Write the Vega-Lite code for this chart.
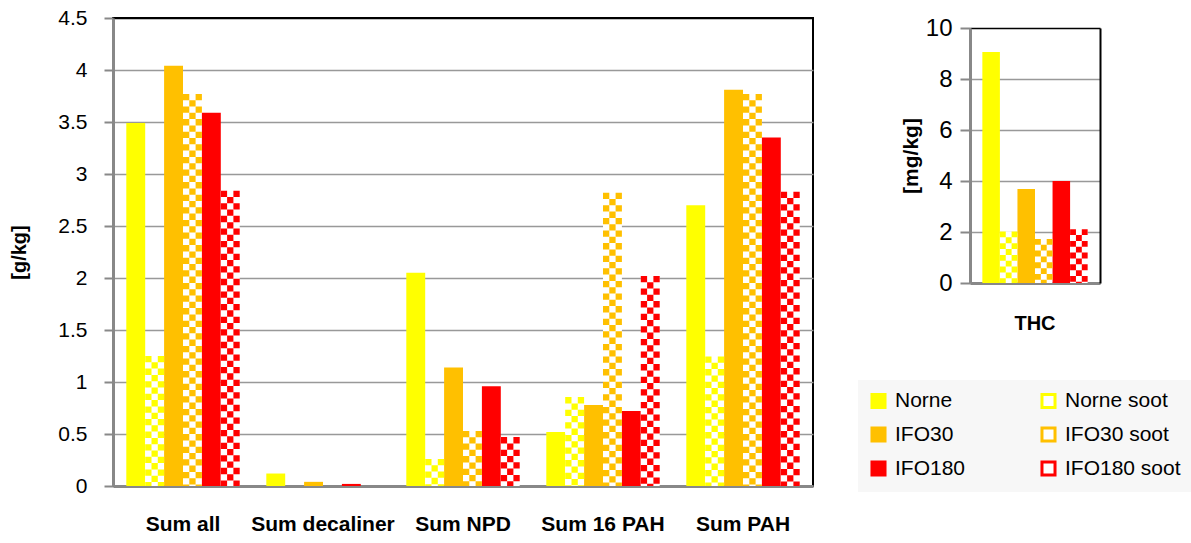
{
  "$schema": "https://vega.github.io/schema/vega-lite/v6.json",
  "background": "white",
  "padding": {"left": 8, "top": 6, "right": 0, "bottom": 0},
  "config": {
    "font": "Liberation Sans",
    "view": {"stroke": "#000000", "strokeWidth": 2},
    "axis": {
      "labelColor": "#000000", "titleColor": "#000000",
      "labelFont": "Liberation Sans", "titleFont": "Liberation Sans",
      "domainColor": "#888888", "domainWidth": 3,
      "tickColor": "#888888", "tickWidth": 2,
      "gridColor": "#999999", "gridWidth": 1.5
    }
  },
  "datasets": {
    "main": [
      {"category": "Sum all", "series": "Norne", "value": 3.49},
      {"category": "Sum all", "series": "Norne soot", "value": 1.25},
      {"category": "Sum all", "series": "IFO30", "value": 4.04},
      {"category": "Sum all", "series": "IFO30 soot", "value": 3.77},
      {"category": "Sum all", "series": "IFO180", "value": 3.59},
      {"category": "Sum all", "series": "IFO180 soot", "value": 2.84},
      {"category": "Sum decaliner", "series": "Norne", "value": 0.12},
      {"category": "Sum decaliner", "series": "Norne soot", "value": 0},
      {"category": "Sum decaliner", "series": "IFO30", "value": 0.04},
      {"category": "Sum decaliner", "series": "IFO30 soot", "value": 0},
      {"category": "Sum decaliner", "series": "IFO180", "value": 0.02},
      {"category": "Sum decaliner", "series": "IFO180 soot", "value": 0},
      {"category": "Sum NPD", "series": "Norne", "value": 2.05},
      {"category": "Sum NPD", "series": "Norne soot", "value": 0.26},
      {"category": "Sum NPD", "series": "IFO30", "value": 1.14},
      {"category": "Sum NPD", "series": "IFO30 soot", "value": 0.53},
      {"category": "Sum NPD", "series": "IFO180", "value": 0.96},
      {"category": "Sum NPD", "series": "IFO180 soot", "value": 0.47},
      {"category": "Sum 16 PAH", "series": "Norne", "value": 0.52},
      {"category": "Sum 16 PAH", "series": "Norne soot", "value": 0.855},
      {"category": "Sum 16 PAH", "series": "IFO30", "value": 0.78},
      {"category": "Sum 16 PAH", "series": "IFO30 soot", "value": 2.82},
      {"category": "Sum 16 PAH", "series": "IFO180", "value": 0.72},
      {"category": "Sum 16 PAH", "series": "IFO180 soot", "value": 2.02},
      {"category": "Sum PAH", "series": "Norne", "value": 2.70},
      {"category": "Sum PAH", "series": "Norne soot", "value": 1.245},
      {"category": "Sum PAH", "series": "IFO30", "value": 3.81},
      {"category": "Sum PAH", "series": "IFO30 soot", "value": 3.77},
      {"category": "Sum PAH", "series": "IFO180", "value": 3.35},
      {"category": "Sum PAH", "series": "IFO180 soot", "value": 2.83}
    ],
    "thc": [
      {"category": "THC", "series": "Norne", "value": 9.06},
      {"category": "THC", "series": "Norne soot", "value": 2.02},
      {"category": "THC", "series": "IFO30", "value": 3.69},
      {"category": "THC", "series": "IFO30 soot", "value": 1.73},
      {"category": "THC", "series": "IFO180", "value": 4.0},
      {"category": "THC", "series": "IFO180 soot", "value": 2.11}
    ]
  },
  "columns": 2,
  "align": "none",
  "spacing": 44,
  "resolve": {
    "scale": {"x": "independent", "y": "independent", "xOffset": "independent", "fill": "independent", "stroke": "independent", "color": "independent"},
    "legend": {"fill": "independent", "stroke": "independent", "color": "independent"},
    "axis": {"x": "independent", "y": "independent"}
  },
  "concat": [
    {
      "width": 700,
      "height": 468,
      "data": {"name": "main"},
      "resolve": {"scale": {"xOffset": "independent"}},
      "encoding": {
        "x": {"field": "category", "type": "nominal", "sort": null,
          "scale": {"paddingInner": 0.19, "paddingOuter": 0.095},
          "axis": {"title": null, "labelAngle": 0, "ticks": false, "labelFontSize": 21, "labelFontWeight": "bold", "labelPadding": 27}},
        "y": {"field": "value", "type": "quantitative",
          "scale": {"domain": [0, 4.5], "nice": false, "zero": true},
          "axis": {"title": "[g/kg]", "values": [0, 0.5, 1, 1.5, 2, 2.5, 3, 3.5, 4, 4.5], "format": "~g",
            "labelFontSize": 21, "titleFontSize": 20, "titleFontWeight": "bold",
            "tickSize": 9, "labelPadding": 17, "titlePadding": 28,
            "gridColor": {"condition": {"test": "datum.value >= 4.5", "value": "#000000"}, "value": "#999999"}}}
      },
      "layer": [
        {
          "mark": {"type": "bar", "strokeWidth": 0},
          "encoding": {
            "xOffset": {"field": "series", "type": "nominal", "sort": null,
              "scale": {"domain": ["Norne", "Norne soot", "IFO30", "IFO30 soot", "IFO180", "IFO180 soot"], "paddingInner": 0, "paddingOuter": 0}},
            "fill": {"field": "series", "type": "nominal",
              "scale": {"domain": ["Norne", "Norne soot", "IFO30", "IFO30 soot", "IFO180", "IFO180 soot"], "range": ["#FFFF00", "#FFFFFF", "#FFC000", "#FFFFFF", "#FF0000", "#FFFFFF"]},
              "legend": null}
          }
        },
        {
          "transform": [{"filter": "indexof(datum.series, 'soot') >= 0"}],
          "mark": {"type": "rule", "strokeWidth": 6.3, "strokeDash": [6.3, 6.3], "strokeDashOffset": 0},
          "encoding": {
            "xOffset": {"field": "series", "type": "nominal", "sort": null,
              "scale": {"domain": ["Norne", "Norne soot", "IFO30", "IFO30 soot", "IFO180", "IFO180 soot"], "paddingInner": 0, "paddingOuter": 0, "range": [-6.3, 107.1]}},
            "y2": {"datum": 0},
            "color": {"field": "series", "type": "nominal",
              "scale": {"domain": ["Norne", "Norne soot", "IFO30", "IFO30 soot", "IFO180", "IFO180 soot"], "range": ["#FFFF00", "#FFFF00", "#FFC000", "#FFC000", "#FF0000", "#FF0000"]},
              "legend": null}
          }
        },
        {
          "transform": [{"filter": "indexof(datum.series, 'soot') >= 0"}],
          "mark": {"type": "rule", "strokeWidth": 6.3, "strokeDash": [6.3, 6.3], "strokeDashOffset": 6.3},
          "encoding": {
            "xOffset": {"field": "series", "type": "nominal", "sort": null,
              "scale": {"domain": ["Norne", "Norne soot", "IFO30", "IFO30 soot", "IFO180", "IFO180 soot"], "paddingInner": 0, "paddingOuter": 0, "range": [0, 113.4]}},
            "y2": {"datum": 0},
            "color": {"field": "series", "type": "nominal",
              "scale": {"domain": ["Norne", "Norne soot", "IFO30", "IFO30 soot", "IFO180", "IFO180 soot"], "range": ["#FFFF00", "#FFFF00", "#FFC000", "#FFC000", "#FF0000", "#FF0000"]},
              "legend": null}
          }
        },
        {
          "transform": [{"filter": "indexof(datum.series, 'soot') >= 0"}],
          "mark": {"type": "rule", "strokeWidth": 6.3, "strokeDash": [6.3, 6.3], "strokeDashOffset": 0},
          "encoding": {
            "xOffset": {"field": "series", "type": "nominal", "sort": null,
              "scale": {"domain": ["Norne", "Norne soot", "IFO30", "IFO30 soot", "IFO180", "IFO180 soot"], "paddingInner": 0, "paddingOuter": 0, "range": [6.3, 119.7]}},
            "y2": {"datum": 0},
            "color": {"field": "series", "type": "nominal",
              "scale": {"domain": ["Norne", "Norne soot", "IFO30", "IFO30 soot", "IFO180", "IFO180 soot"], "range": ["#FFFF00", "#FFFF00", "#FFC000", "#FFC000", "#FF0000", "#FF0000"]},
              "legend": null}
          }
        }
      ]
    },
    {
      "width": 130,
      "height": 265,
      "view": {"stroke": null},
      "data": {"name": "thc"},
      "resolve": {"scale": {"xOffset": "independent"}, "axis": {"y": "independent"}},
      "encoding": {
        "x": {"field": "category", "type": "nominal", "sort": null,
          "scale": {"paddingInner": 0.19, "paddingOuter": 0.095},
          "axis": {"title": null, "labelAngle": 0, "ticks": false, "labelFontSize": 20, "labelFontWeight": "bold", "labelPadding": 30}}
      },
      "layer": [
        {
          "mark": {"type": "bar", "strokeWidth": 0},
          "encoding": {
            "y": {"field": "value", "type": "quantitative",
              "scale": {"domain": [0, 10], "nice": false, "zero": true, "range": [265, 10]},
              "axis": {"title": "[mg/kg]", "values": [0, 2, 4, 6, 8, 10], "format": "d",
                "labelFontSize": 24, "titleFontSize": 21, "titleFontWeight": "bold",
                "tickSize": 10, "labelPadding": 8, "titlePadding": 4,
                "gridColor": {"condition": {"test": "datum.value >= 10", "value": "#000000"}, "value": "#999999"}}},
            "xOffset": {"field": "series", "type": "nominal", "sort": null,
              "scale": {"domain": ["Norne", "Norne soot", "IFO30", "IFO30 soot", "IFO180", "IFO180 soot"], "paddingInner": 0, "paddingOuter": 0}},
            "fill": {"field": "series", "type": "nominal",
              "scale": {"domain": ["Norne", "Norne soot", "IFO30", "IFO30 soot", "IFO180", "IFO180 soot"], "range": ["#FFFF00", "#FFFFFF", "#FFC000", "#FFFFFF", "#FF0000", "#FFFFFF"]},
              "legend": {"orient": "none", "legendX": -112, "legendY": 362, "title": null, "columns": 2, "direction": "horizontal", "symbolType": "square", "symbolSize": 170, "symbolStrokeWidth": 3, "labelFontSize": 21, "labelFont": "Liberation Sans", "labelColor": "#000000", "fillColor": "#F7F7F7", "padding": 10, "rowPadding": 7, "columnPadding": 69, "labelOffset": 6}},
            "stroke": {"field": "series", "type": "nominal",
              "scale": {"domain": ["Norne", "Norne soot", "IFO30", "IFO30 soot", "IFO180", "IFO180 soot"], "range": ["#FFFF00", "#FFFF00", "#FFC000", "#FFC000", "#FF0000", "#FF0000"]},
              "legend": {"orient": "none", "legendX": -112, "legendY": 362, "title": null, "columns": 2, "direction": "horizontal", "symbolType": "square", "symbolSize": 170, "symbolStrokeWidth": 3, "labelFontSize": 21, "labelFont": "Liberation Sans", "labelColor": "#000000", "fillColor": "#F7F7F7", "padding": 10, "rowPadding": 7, "columnPadding": 69, "labelOffset": 6}}
          }
        },
        {
          "transform": [{"filter": "indexof(datum.series, 'soot') >= 0"}],
          "mark": {"type": "rule", "strokeWidth": 5.85, "strokeDash": [5.85, 5.85], "strokeDashOffset": 0},
          "encoding": {
            "y": {"field": "value", "type": "quantitative", "axis": null},
            "xOffset": {"field": "series", "type": "nominal", "sort": null,
              "scale": {"domain": ["Norne", "Norne soot", "IFO30", "IFO30 soot", "IFO180", "IFO180 soot"], "paddingInner": 0, "paddingOuter": 0, "range": [-5.85, 99.45]}},
            "y2": {"datum": 0},
            "color": {"field": "series", "type": "nominal",
              "scale": {"domain": ["Norne", "Norne soot", "IFO30", "IFO30 soot", "IFO180", "IFO180 soot"], "range": ["#FFFF00", "#FFFF00", "#FFC000", "#FFC000", "#FF0000", "#FF0000"]},
              "legend": null}
          }
        },
        {
          "transform": [{"filter": "indexof(datum.series, 'soot') >= 0"}],
          "mark": {"type": "rule", "strokeWidth": 5.85, "strokeDash": [5.85, 5.85], "strokeDashOffset": 5.85},
          "encoding": {
            "y": {"field": "value", "type": "quantitative", "axis": null},
            "xOffset": {"field": "series", "type": "nominal", "sort": null,
              "scale": {"domain": ["Norne", "Norne soot", "IFO30", "IFO30 soot", "IFO180", "IFO180 soot"], "paddingInner": 0, "paddingOuter": 0, "range": [0, 105.3]}},
            "y2": {"datum": 0},
            "color": {"field": "series", "type": "nominal",
              "scale": {"domain": ["Norne", "Norne soot", "IFO30", "IFO30 soot", "IFO180", "IFO180 soot"], "range": ["#FFFF00", "#FFFF00", "#FFC000", "#FFC000", "#FF0000", "#FF0000"]},
              "legend": null}
          }
        },
        {
          "transform": [{"filter": "indexof(datum.series, 'soot') >= 0"}],
          "mark": {"type": "rule", "strokeWidth": 5.85, "strokeDash": [5.85, 5.85], "strokeDashOffset": 0},
          "encoding": {
            "y": {"field": "value", "type": "quantitative",
              "axis": {"orient": "right", "title": null, "labels": false, "ticks": false, "grid": false, "domainColor": "#000000", "domainWidth": 2}},
            "xOffset": {"field": "series", "type": "nominal", "sort": null,
              "scale": {"domain": ["Norne", "Norne soot", "IFO30", "IFO30 soot", "IFO180", "IFO180 soot"], "paddingInner": 0, "paddingOuter": 0, "range": [5.85, 111.15]}},
            "y2": {"datum": 0},
            "color": {"field": "series", "type": "nominal",
              "scale": {"domain": ["Norne", "Norne soot", "IFO30", "IFO30 soot", "IFO180", "IFO180 soot"], "range": ["#FFFF00", "#FFFF00", "#FFC000", "#FFC000", "#FF0000", "#FF0000"]},
              "legend": null}
          }
        }
      ]
    }
  ]
}
